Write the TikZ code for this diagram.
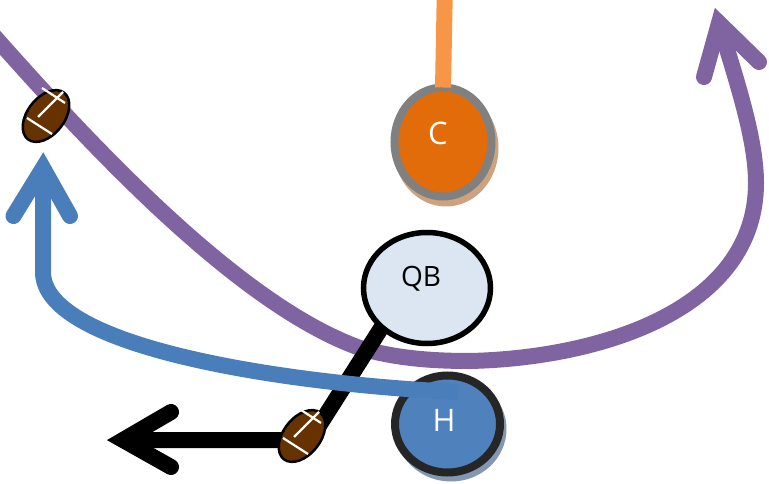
\documentclass[tikz,border=0pt]{standalone}
\usepackage{fontspec}
\setmainfont{Open Sans}
\usepackage{tikz}
\usetikzlibrary{shapes.geometric}
\definecolor{routepurple}{HTML}{8064A2}
\definecolor{routeblue}{HTML}{4A7EBB}
\definecolor{snaporange}{HTML}{F79646}
\definecolor{centerfill}{HTML}{E36C0A}
\definecolor{centershadow}{HTML}{CDA27F}
\definecolor{qbfill}{HTML}{DCE6F2}
\definecolor{backfill}{HTML}{4F81BD}
\definecolor{backshadow}{HTML}{8497B0}
\definecolor{ballbrown}{HTML}{663300}
\tikzset{
	route/.style={line width=16pt,line cap=butt,line join=round},
	head/.style={line width=16pt,line cap=round,line join=miter,miter limit=10},
	player/.style={ellipse,draw,inner sep=0pt,outer sep=0pt},
	playername/.style={inner sep=0pt,font=\fontsize{31}{33}\selectfont},
	ball/.style={ellipse,draw=black,fill=ballbrown,line width=2.5pt,inner sep=0pt,outer sep=0pt,
		minimum width=59pt,minimum height=37pt,rotate=52},
	lace/.style={draw=white,line width=2.2pt}
}
\begin{document}
\begin{tikzpicture}[x=1pt,y=-1pt]
	\useasboundingbox (0,0) rectangle (769,484);
	% 点の定義
	\coordinate (purple_start) at (-6,36);
	\coordinate (purple_low) at (360,348);
	\coordinate (purple_bottom) at (470,361);
	\coordinate (purple_side) at (756,183);
	\coordinate (purple_neck) at (719,23);
	\coordinate (purple_left) at (704,77);
	\coordinate (purple_right) at (759,62);
	\coordinate (blue_corner) at (43,272);
	\coordinate (blue_neck) at (43,168);
	\coordinate (blue_left) at (13.5,216);
	\coordinate (blue_right) at (70,216);
	\coordinate (blue_end) at (458,392);
	\coordinate (black_top) at (385,322);
	\coordinate (black_bend) at (310,440);
	\coordinate (black_neck) at (123,440);
	\coordinate (black_left) at (171,412);
	\coordinate (black_right) at (171,467);
	\coordinate (snap_start) at (444.7,-2);
	\coordinate (snap_end) at (443,87.5);
	% 紫の経路
	\draw [route,routepurple] (purple_start) .. controls (95,150) and (240,305) .. (purple_low)
		.. controls (395,358) and (430,361) .. (purple_bottom)
		.. controls (600,358) and (756,310) .. (purple_side)
		.. controls (756,140) and (738,85) .. (purple_neck);
	\draw [head,routepurple] (purple_left)--(purple_neck)--(purple_right);
	% 黒の経路
	\draw [route,black] (black_top)--(black_bend)--(black_neck);
	\draw [head,black] (black_left)--(black_neck)--(black_right);
	% 選手の描画
	\node (center_shadow) [player,draw=none,fill=centershadow,minimum width=105pt,minimum height=117pt] at (446,148) {};
	\node (center) [player,draw=gray,fill=centerfill,line width=8pt,minimum width=97pt,minimum height=109pt] at (443,142) {};
	\node (qb) [player,draw=black,fill=qbfill,line width=5.5pt,minimum width=127pt,minimum height=111pt] at (427,288) {};
	\node (back_shadow) [player,draw=none,fill=backshadow,minimum width=111pt,minimum height=105pt] at (451,429) {};
	\node (back) [player,draw=black!85,fill=backfill,line width=8pt,minimum width=105pt,minimum height=97pt] at (447.5,424) {};
	\node (center_name) [playername,white] at (438,133) {C};
	\node (qb_name) [playername,black,font=\fontsize{28}{30}\selectfont] at (421,279) {QB};
	\node (back_name) [playername,white] at (444,420) {H};
	% 青の経路とスナップ
	\draw [route,routeblue] (blue_end) .. controls (300,385) and (43,350) .. (blue_corner)--(blue_neck);
	\draw [head,routeblue] (blue_left)--(blue_neck)--(blue_right);
	\draw [route,snaporange] (snap_start)--(snap_end);
	% ボールの描画
	\node (ball_back) [ball] at (302,436) {};
	\node (ball_air) [ball] at (46,116) {};
	\foreach \ballx/\bally in {0/0,256/320}{
		\draw [lace] (38+\ballx,117+\bally)--(63+\ballx,92+\bally);
		\draw [lace] (42+\ballx,88+\bally)--(65+\ballx,103+\bally);
		\draw [lace] (27+\ballx,118+\bally)--(52+\ballx,134+\bally);
	}
\end{tikzpicture}
\end{document}
